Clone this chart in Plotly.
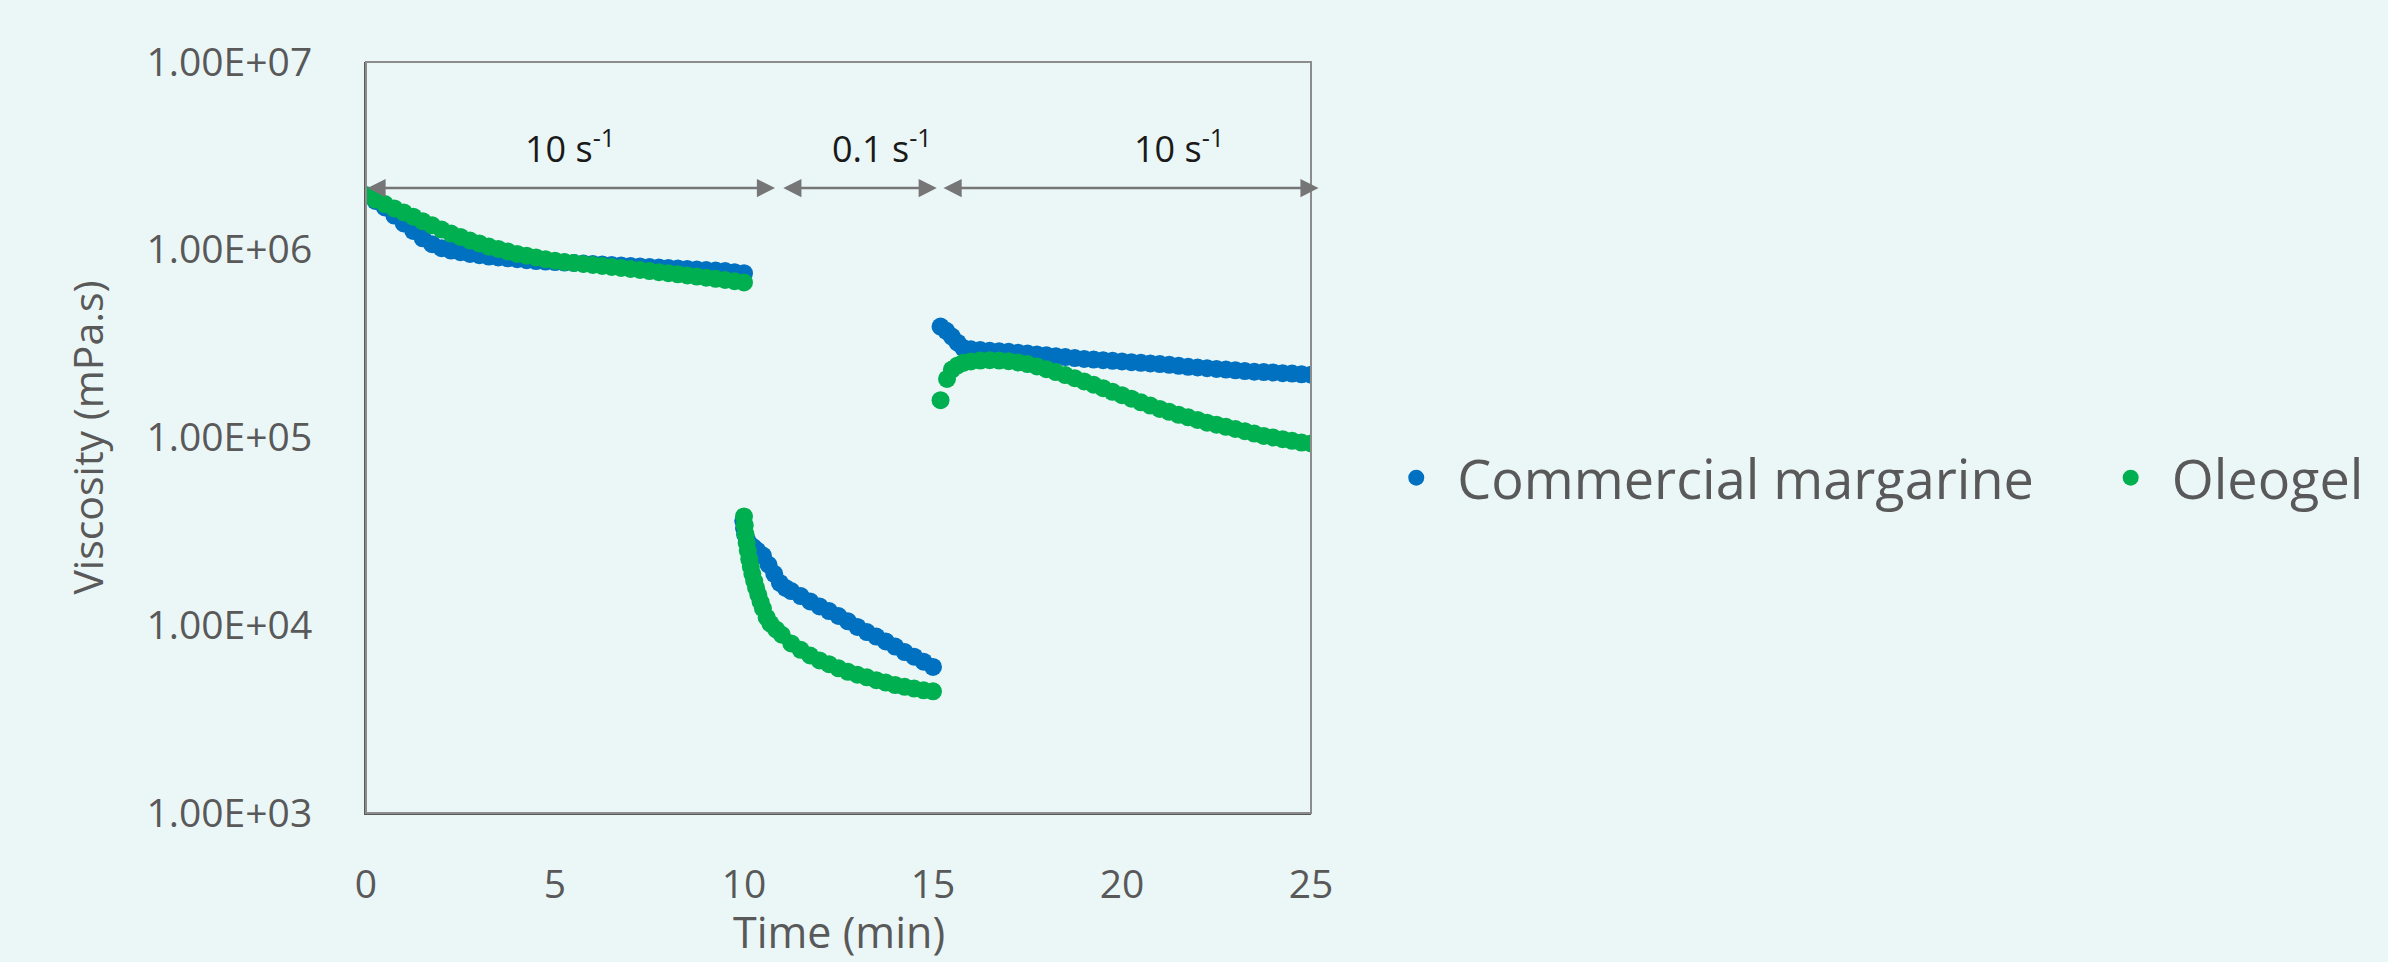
import math
import plotly.graph_objects as go

# ---- measurement data: viscosity (mPa.s) vs time (min) ----
# Step 1: 10 s-1 shear, 0-10 min (same sampling for both samples)
t_step1 = [0.0, 0.25, 0.5, 0.75, 1.0, 1.25, 1.5, 1.75, 2.0, 2.25, 2.5, 2.75, 3.0, 3.25,
           3.5, 3.75, 4.0, 4.25, 4.5, 4.75, 5.0, 5.25, 5.5, 5.75, 6.0, 6.25, 6.5, 6.75,
           7.0, 7.25, 7.5, 7.75, 8.0, 8.25, 8.5, 8.75, 9.0, 9.25, 9.5, 9.75, 10.0]
margarine_step1 = [1.95e6, 1.82e6, 1.68e6, 1.52e6, 1.38e6, 1.26e6, 1.15e6, 1.07e6, 1.02e6,
                   9.9e5, 9.7e5, 9.5e5, 9.35e5, 9.2e5, 9.1e5, 9.0e5, 8.9e5, 8.8e5, 8.7e5,
                   8.65e5, 8.6e5, 8.55e5, 8.5e5, 8.45e5, 8.4e5, 8.35e5, 8.3e5, 8.25e5,
                   8.2e5, 8.15e5, 8.1e5, 8.05e5, 8.0e5, 7.95e5, 7.9e5, 7.85e5, 7.8e5,
                   7.75e5, 7.7e5, 7.6e5, 7.5e5]
oleogel_step1 = [1.95e6, 1.85e6, 1.75e6, 1.66e6, 1.58e6, 1.5e6, 1.42e6, 1.35e6, 1.28e6,
                 1.22e6, 1.17e6, 1.12e6, 1.08e6, 1.04e6, 1.01e6, 9.8e5, 9.5e5, 9.3e5,
                 9.1e5, 8.9e5, 8.75e5, 8.6e5, 8.5e5, 8.4e5, 8.3e5, 8.2e5, 8.1e5, 8.0e5,
                 7.9e5, 7.8e5, 7.7e5, 7.6e5, 7.5e5, 7.4e5, 7.3e5, 7.2e5, 7.1e5, 7.0e5,
                 6.9e5, 6.8e5, 6.7e5]

# Step 2: 0.1 s-1 shear, 10-15 min
t_margarine_step2 = [9.98, 10.0, 10.03, 10.08, 10.15, 10.25, 10.35, 10.5, 10.65, 10.8,
                     10.95, 11.1, 11.25, 11.5, 11.75, 12.0, 12.25, 12.5, 12.75, 13.0,
                     13.25, 13.5, 13.75, 14.0, 14.25, 14.5, 14.75, 15.0]
margarine_step2 = [3.6e4, 3.3e4, 3.05e4, 2.85e4, 2.7e4, 2.6e4, 2.5e4, 2.35e4, 2.1e4,
                   1.88e4, 1.68e4, 1.58e4, 1.52e4, 1.43e4, 1.34e4, 1.26e4, 1.19e4, 1.12e4,
                   1.05e4, 9.8e3, 9.2e3, 8.7e3, 8.2e3, 7.7e3, 7.2e3, 6.8e3, 6.4e3, 6.0e3]
t_oleogel_step2 = [10.0, 10.02, 10.04, 10.07, 10.1, 10.14, 10.18, 10.22, 10.27, 10.32,
                   10.38, 10.44, 10.5, 10.6, 10.7, 10.85, 11.0, 11.25, 11.5, 11.75, 12.0,
                   12.25, 12.5, 12.75, 13.0, 13.25, 13.5, 13.75, 14.0, 14.25, 14.5, 14.75,
                   15.0]
oleogel_step2 = [3.8e4, 3.4e4, 3.05e4, 2.75e4, 2.5e4, 2.25e4, 2.05e4, 1.88e4, 1.72e4,
                 1.58e4, 1.45e4, 1.33e4, 1.23e4, 1.1e4, 1.02e4, 9.5e3, 8.9e3, 8.0e3,
                 7.4e3, 6.9e3, 6.5e3, 6.2e3, 5.9e3, 5.65e3, 5.45e3, 5.28e3, 5.1e3, 4.95e3,
                 4.8e3, 4.7e3, 4.6e3, 4.5e3, 4.45e3]

# Step 3: 10 s-1 shear again, 15-25 min
t_margarine_step3 = [15.2, 15.35, 15.5, 15.65, 15.8, 16.0, 16.25, 16.5, 16.75, 17.0, 17.25,
                     17.5, 17.75, 18.0, 18.25, 18.5, 18.75, 19.0, 19.25, 19.5, 19.75, 20.0,
                     20.25, 20.5, 20.75, 21.0, 21.25, 21.5, 21.75, 22.0, 22.25, 22.5, 22.75,
                     23.0, 23.25, 23.5, 23.75, 24.0, 24.25, 24.5, 24.75, 25.0]
margarine_step3 = [3.9e5, 3.7e5, 3.45e5, 3.2e5, 3.0e5, 2.95e5, 2.92e5, 2.9e5, 2.88e5,
                   2.86e5, 2.83e5, 2.8e5, 2.77e5, 2.74e5, 2.71e5, 2.68e5, 2.65e5, 2.62e5,
                   2.6e5, 2.58e5, 2.56e5, 2.54e5, 2.52e5, 2.5e5, 2.48e5, 2.46e5, 2.44e5,
                   2.41e5, 2.38e5, 2.36e5, 2.34e5, 2.32e5, 2.3e5, 2.28e5, 2.26e5, 2.24e5,
                   2.23e5, 2.22e5, 2.2e5, 2.19e5, 2.17e5, 2.16e5]
t_oleogel_step3 = [15.2, 15.37, 15.5, 15.65, 15.8, 16.0, 16.25, 16.5, 16.75, 17.0, 17.25,
                   17.5, 17.75, 18.0, 18.25, 18.5, 18.75, 19.0, 19.25, 19.5, 19.75, 20.0,
                   20.25, 20.5, 20.75, 21.0, 21.25, 21.5, 21.75, 22.0, 22.25, 22.5, 22.75,
                   23.0, 23.25, 23.5, 23.75, 24.0, 24.25, 24.5, 24.75, 25.0]
oleogel_step3 = [1.58e5, 2.05e5, 2.3e5, 2.42e5, 2.5e5, 2.54e5, 2.57e5, 2.58e5, 2.57e5,
                 2.55e5, 2.51e5, 2.46e5, 2.39e5, 2.31e5, 2.23e5, 2.15e5, 2.07e5, 1.99e5,
                 1.91e5, 1.83e5, 1.75e5, 1.68e5, 1.61e5, 1.54e5, 1.48e5, 1.42e5, 1.37e5,
                 1.32e5, 1.28e5, 1.24e5, 1.2e5, 1.17e5, 1.14e5, 1.11e5, 1.08e5, 1.05e5,
                 1.02e5, 1.0e5, 9.8e4, 9.6e4, 9.4e4, 9.3e4]

# Axis ticks
x_ticks = [0, 5, 10, 15, 20, 25]
y_ticks = [1e3, 1e4, 1e5, 1e6, 1e7]
y_tick_labels = ["1.00E+03", "1.00E+04", "1.00E+05", "1.00E+06", "1.00E+07"]

# Shear-rate steps shown above the curves: (start, end, label position, label)
steps = [(0.0, 10.82, 5.4, "10 s<sup>-1</sup>"),
         (11.0, 15.1, 13.65, "0.1 s<sup>-1</sup>"),
         (15.24, 25.2, 21.5, "10 s<sup>-1</sup>")]
step_arrow_y = 2.13e6
step_label_y = 3.55e6

BG = "#EBF7F7"
TEXT = "#595959"
BLUE = "#0070C0"
GREEN = "#00B050"
FONT = "Open Sans"

fig = go.Figure()
fig.add_trace(go.Scatter(
    x=t_step1 + t_margarine_step2 + t_margarine_step3,
    y=margarine_step1 + margarine_step2 + margarine_step3,
    mode="markers", name="Commercial margarine", legend="legend",
    marker=dict(color=BLUE, size=18, line=dict(width=0)),
))
fig.add_trace(go.Scatter(
    x=t_step1 + t_oleogel_step2 + t_oleogel_step3,
    y=oleogel_step1 + oleogel_step2 + oleogel_step3,
    mode="markers", name="Oleogel", legend="legend2",
    marker=dict(color=GREEN, size=18, line=dict(width=0)),
))

annotations = []
for start, end, label_x, label in steps:
    # double-headed arrow spanning the step
    annotations.append(dict(
        x=end, y=math.log10(step_arrow_y), ax=start, ay=math.log10(step_arrow_y),
        xref="x", yref="y", axref="x", ayref="y", text="",
        showarrow=True, arrowside="end+start", arrowhead=2, startarrowhead=2,
        arrowsize=1.45, startarrowsize=1.45, arrowwidth=2.5, arrowcolor="#767676",
        standoff=0, startstandoff=0,
    ))
    annotations.append(dict(
        x=label_x, y=math.log10(step_label_y), xref="x", yref="y", text=label,
        showarrow=False, font=dict(family=FONT, size=36, color="#1a1a1a"),
        xanchor="center", yanchor="middle",
    ))

# x-axis title, set close to the bottom edge of the page
annotations.append(dict(
    x=0.5, y=-0.158, xref="paper", yref="paper", text="Time (min)",
    showarrow=False, font=dict(family=FONT, size=43, color=TEXT),
    xanchor="center", yanchor="middle",
))

legend_style = dict(orientation="h", xanchor="left", y=0.446, yanchor="middle",
                    font=dict(family=FONT, size=54, color=TEXT), itemwidth=72,
                    bgcolor="rgba(0,0,0,0)", borderwidth=0)

fig.update_layout(
    width=2388, height=962,
    margin=dict(l=366, r=1077, t=62, b=149),
    paper_bgcolor=BG, plot_bgcolor=BG,
    font=dict(family=FONT, color=TEXT),
    showlegend=True,
    legend=dict(x=1.068, **legend_style),
    legend2=dict(x=1.824, **legend_style),
    annotations=annotations,
    shapes=[dict(type="rect", xref="paper", yref="paper", x0=0, y0=0, x1=1, y1=1,
                 line=dict(color="#8C8C8C", width=2), layer="above")],
)
fig.update_xaxes(
    range=[0, 25], tickvals=x_ticks, showgrid=False, zeroline=False,
    showline=True, linecolor="#595959", linewidth=2, automargin=False,
    ticks="", ticklabelstandoff=36,
    tickfont=dict(family=FONT, size=39, color=TEXT),
)
fig.update_yaxes(
    type="log", range=[3, 7], tickvals=y_ticks, ticktext=y_tick_labels,
    showgrid=False, zeroline=False, automargin=False,
    showline=True, linecolor="#595959", linewidth=2,
    ticks="", ticklabelstandoff=44,
    tickfont=dict(family=FONT, size=39, color=TEXT),
    title=dict(text="Viscosity (mPa.s)", font=dict(family=FONT, size=41, color=TEXT), standoff=30),
)

fig.write_html("out.html")
